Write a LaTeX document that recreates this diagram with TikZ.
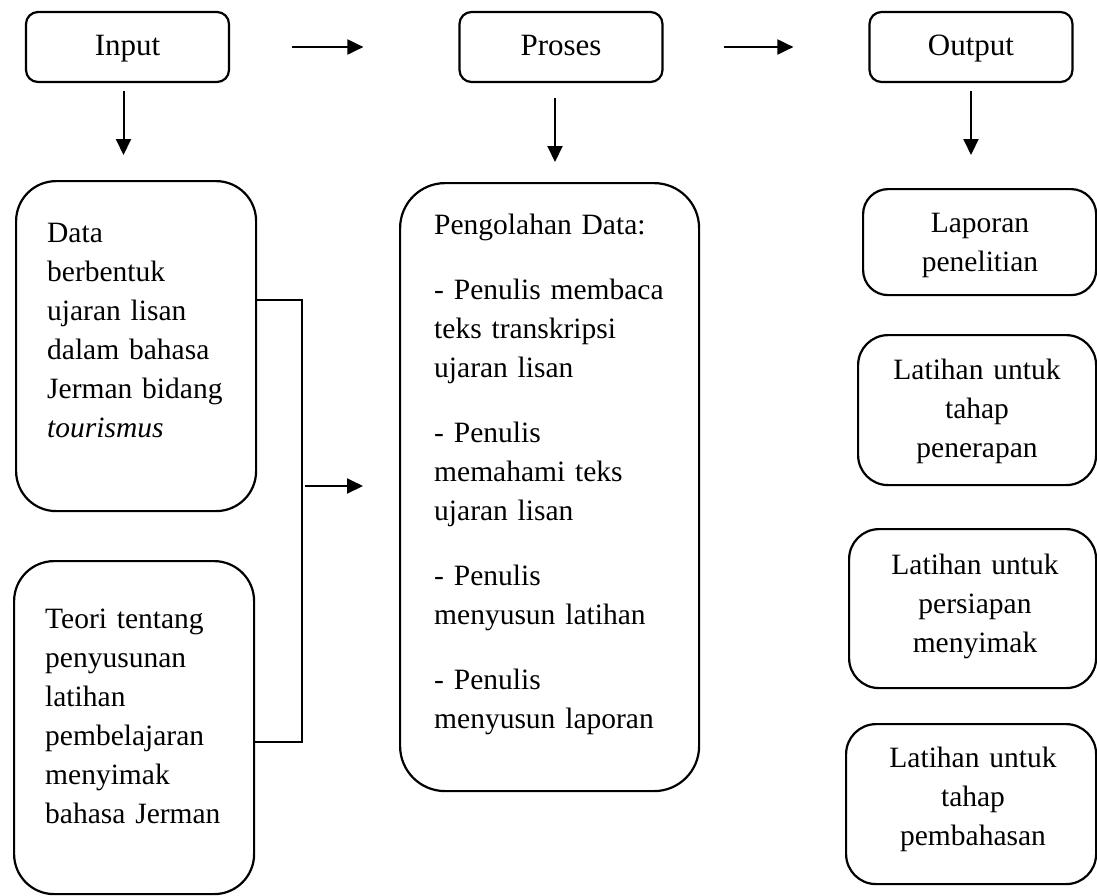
\documentclass[tikz,border=0pt]{standalone}
\usepackage{fontspec}
\setmainfont{Liberation Serif}
\usetikzlibrary{arrows.meta}
\begin{document}
\begin{tikzpicture}[x=1pt,y=-1pt,
  box/.style={draw, line width=2.2pt, inner sep=0pt, anchor=north west},
  txt/.style={font=\fontsize{29.5}{39}\selectfont, inner sep=0pt},
  topbox/.style={box, font=\fontsize{31}{39}\selectfont, rounded corners=12pt, minimum width=203pt, minimum height=70pt, anchor=center, text height=21pt, text depth=5pt},
  ltxt/.style={txt, anchor=base west, align=left},
  ctxt/.style={txt, anchor=base, align=center, text width=240pt},
  arr/.style={line width=2pt, -{Triangle[length=16pt,width=15pt]}},
  conn/.style={line width=2pt}]
\useasboundingbox (0,0) rectangle (1097,895);
% top row
\node[topbox] (input) at (127.5,47) {Input};
\node[topbox] (proses) at (561,47) {Proses};
\node[topbox] (output) at (971,47) {Output};
% left column
\node[box, rounded corners=40pt, minimum width=240pt, minimum height=330pt] (data) at (15,180) {};
\node[box, rounded corners=40pt, minimum width=240pt, minimum height=333pt] (teori) at (13,560) {};
\node[ltxt, text width=200pt] (datatxt) at (47,242) {Data\\berbentuk\\ujaran lisan\\dalam bahasa\\Jerman bidang\\\textit{tourismus}};
\node[ltxt, text width=200pt] (teoritxt) at (45,628) {Teori tentang\\penyusunan\\latihan\\pembelajaran\\menyimak\\bahasa Jerman};
% middle column
\node[box, rounded corners=45pt, minimum width=299pt, minimum height=608pt] (peng) at (399,182) {};
\node[ltxt, text width=260pt] (pengtxt) at (434,234) {Pengolahan Data:\\[26pt]- Penulis membaca\\teks transkripsi\\ujaran lisan\\[26pt]- Penulis\\memahami teks\\ujaran lisan\\[26pt]- Penulis\\menyusun latihan\\[26pt]- Penulis\\menyusun laporan};
% right column
\node[box, rounded corners=25pt, minimum width=233pt, minimum height=106pt] (laporan) at (862,188) {};
\node[box, rounded corners=30pt, minimum width=238pt, minimum height=150pt] (penerapan) at (857,334) {};
\node[box, rounded corners=30pt, minimum width=247pt, minimum height=159pt] (persiapan) at (848,528) {};
\node[box, rounded corners=30pt, minimum width=250pt, minimum height=160pt] (pembahasan) at (845,723) {};
\node[ctxt] (laportxt) at (980,232) {Laporan\\penelitian};
\node[ctxt] (penertxt) at (977,379) {Latihan untuk\\tahap\\penerapan};
\node[ctxt] (persitxt) at (975,574) {Latihan untuk\\persiapan\\menyimak};
\node[ctxt] (pembatxt) at (973,767) {Latihan untuk\\tahap\\pembahasan};
% horizontal arrows top
\draw[arr, shorten <=62pt, shorten >=95pt] (input.east) -- (proses.west);
\draw[arr, shorten <=60pt, shorten >=75pt] (proses.east) -- (output.west);
% down arrows
\draw[arr, shorten <=8pt, shorten >=25pt] ([xshift=-4pt]input.south) -- ([xshift=-4pt]input.south |- data.north);
\draw[arr, shorten <=15pt, shorten >=20pt] ([xshift=-6pt]proses.south) -- ([xshift=-6pt]proses.south |- peng.north);
\draw[arr, shorten <=8pt, shorten >=33pt] (output.south) -- (output.south |- laporan.north);
% bracket
\coordinate (bt) at (302,300);
\coordinate (bb) at (302,742);
\coordinate (bm) at (302,486);
\draw[conn] (data.east |- bt) -- (bt) -- (bb) -- (teori.east |- bb);
\draw[arr, shorten <=3pt, shorten >=36pt] (bm) -- (bm -| peng.west);
\end{tikzpicture}
\end{document}
